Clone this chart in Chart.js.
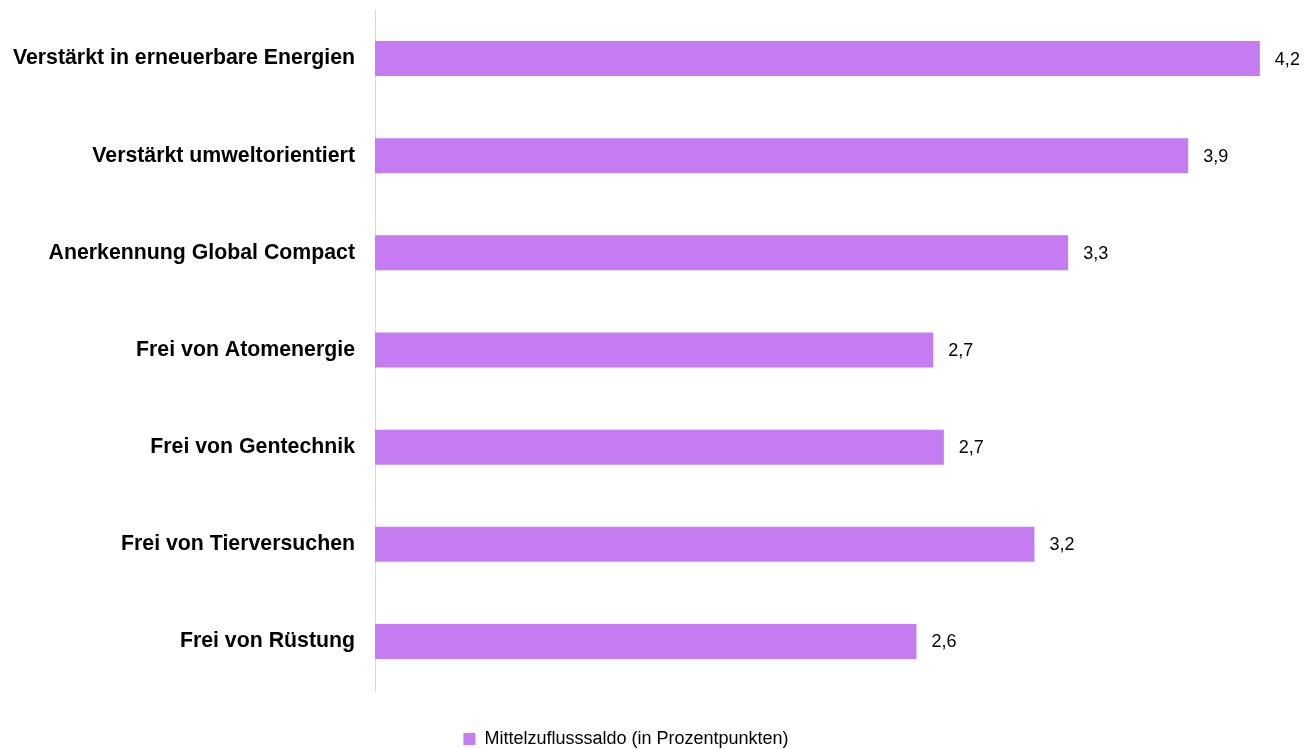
<!DOCTYPE html>
<html>
<head>
<meta charset="utf-8">
<script src="https://cdn.jsdelivr.net/npm/chart.js@4/dist/chart.umd.min.js"></script>
<style>
  html, body { margin: 0; padding: 0; background: #fff; }
  #wrap { width: 1309px; height: 749px; }
</style>
</head>
<body>
<div id="wrap"><canvas id="myChart"></canvas></div>
<script>
// categories (top to bottom)
const categories = [
  'Verstärkt in erneuerbare Energien',
  'Verstärkt umweltorientiert',
  'Anerkennung Global Compact',
  'Frei von Atomenergie',
  'Frei von Gentechnik',
  'Frei von Tierversuchen',
  'Frei von Rüstung'
];
// bar lengths
const saldo = [4.2, 3.86, 3.29, 2.65, 2.70, 3.13, 2.57];
// printed value labels
const valueLabels = ['4,2', '3,9', '3,3', '2,7', '2,7', '3,2', '2,6'];
const seriesName = 'Mittelzuflusssaldo (in Prozentpunkten)';

const fontFam = '"Liberation Sans", Arial, sans-serif';

// draws the numbers next to each bar
const valueLabelPlugin = {
  id: 'valueLabels',
  afterDatasetsDraw(chart) {
    const ctx = chart.ctx;
    const meta = chart.getDatasetMeta(0);
    ctx.save();
    ctx.font = '18px ' + fontFam;
    ctx.fillStyle = '#000';
    ctx.textAlign = 'left';
    ctx.textBaseline = 'middle';
    meta.data.forEach(function(bar, i) {
      ctx.fillText(valueLabels[i], bar.x + 15, bar.y + 1);
    });
    ctx.restore();
  }
};

const data = {
  labels: categories,
  datasets: [{
    label: seriesName,
    data: saldo,
    backgroundColor: '#C57CF2',
    borderWidth: 0,
    barPercentage: 0.36,
    categoryPercentage: 1.0
  }]
};

const config = {
  type: 'bar',
  data,
  options: {
    indexAxis: 'y',
    responsive: true,
    maintainAspectRatio: false,
    animation: false,
    layout: {
      // legend in the original sits a bit left of centre
      padding: { top: 10, right: 7, bottom: -9, left: -50 }
    },
    scales: {
      x: {
        min: 0,
        max: 4.4,
        grid: { display: false },
        border: { display: false },
        ticks: { display: false },
        afterFit: function(scale) { scale.height = 30; }
      },
      y: {
        grid: { display: false, drawTicks: false },
        border: { display: true, color: '#d9d9d9', width: 1 },
        ticks: {
          color: '#000',
          padding: 20,
          font: { family: fontFam, size: 21.3, weight: 'bold' }
        },
        afterFit: function(scale) {
          scale.width = 425;
          scale.paddingTop = 0;
          scale.paddingBottom = 0;
        }
      }
    },
    plugins: {
      legend: {
        position: 'bottom',
        labels: {
          color: '#000',
          boxWidth: 12,
          boxHeight: 12,
          padding: 10,
          font: { family: fontFam, size: 18 }
        }
      },
      tooltip: { enabled: false }
    }
  },
  plugins: [valueLabelPlugin]
};

const myChart = new Chart(document.getElementById('myChart'), config);
</script>
</body>
</html>
